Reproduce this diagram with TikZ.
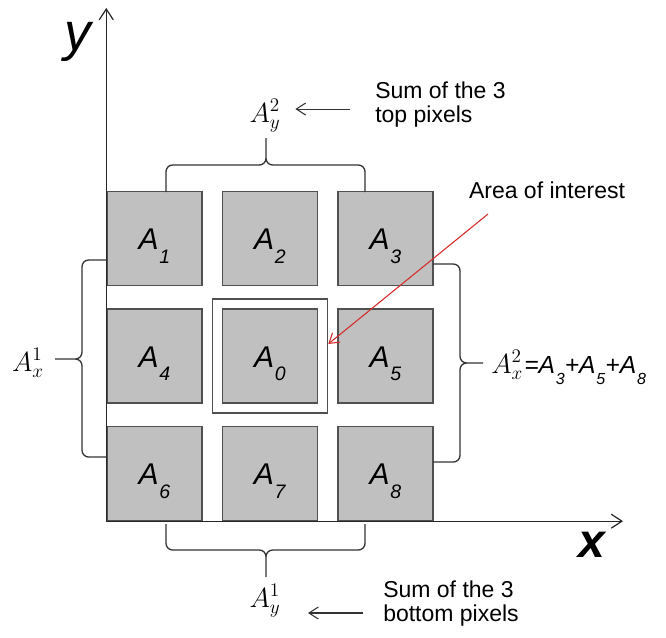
\documentclass[tikz,border=0pt]{standalone}
\usepackage{fontspec}
\setmainfont{Liberation Sans}
\usepackage{graphicx}
\usetikzlibrary{positioning,arrows.meta,fit,calc}
\definecolor{pixgray}{HTML}{C0C0C0}
\definecolor{edgegray}{HTML}{505050}
\definecolor{roired}{HTML}{D42A2A}
\newcommand{\Apix}[1]{\textit{A}\kern0.6pt\raisebox{-0.45em}{\scalebox{0.65}{\textit{#1}}}}

\begin{document}
\begin{tikzpicture}[x=0.75pt, y=-0.75pt,
    node distance=16.5pt and 14.25pt,
    pix/.style={rectangle, draw=edgegray, fill=pixgray, line width=1.1pt, minimum width=71.25pt, minimum height=70.5pt, inner sep=0pt, text height=26pt, text depth=9pt, font=\fontsize{22.5}{27}\selectfont},
    roi/.style={rectangle, draw=edgegray, line width=1.1pt, inner sep=7pt},
    note/.style={align=left, inner sep=0pt, font=\fontsize{17.25}{18}\selectfont},
    sumlbl/.style={inner sep=0pt, font=\fontsize{20.74}{25}\selectfont},
    brace/.style={draw=black!80, line width=1pt, rounded corners=5pt},
    axis/.style={draw=black!85, line width=0.9pt, {Straight Barb[length=8pt,width=10.5pt]}-{Straight Barb[length=8pt,width=10.5pt]}},
    arrow/.style={draw=black!80, line width=0.8pt, -{Straight Barb[length=7pt,width=9pt]}},
    pointer/.style={draw=roired, line width=0.8pt, -{Straight Barb[length=7pt,width=9pt]}}
]
\useasboundingbox (0,0) rectangle (666,637);
% the 3x3 pixels
\node[pix] (a1) at (154.5,238.5) {\Apix{1}};
\node[pix, right=of a1] (a2) {\Apix{2}};
\node[pix, right=of a2] (a3) {\Apix{3}};
\node[pix, below=of a1] (a4) {\Apix{4}};
\node[pix, right=of a4] (a0) {\Apix{0}};
\node[pix, right=of a0] (a5) {\Apix{5}};
\node[pix, below=of a4] (a6) {\Apix{6}};
\node[pix, right=of a6] (a7) {\Apix{7}};
\node[pix, right=of a7] (a8) {\Apix{8}};
\node[roi, fit=(a0)] (roi) {};
% axes
\draw[axis] (a6.south west |- 0,8) -- (a6.south west) -- (a6.south west -| 623,0);
\node[font=\fontsize{40}{48}\selectfont\itshape, inner sep=0pt] (ylab) at (78,42) {y};
\node[font=\fontsize{36}{44}\selectfont\bfseries\itshape, inner sep=0pt] (xlab) at (592,545) {x};
% braces
\draw[brace] (166,192) |- (266,165) -- (266,138) (365,192) |- (266,165) -- (266,138);
\draw[brace] (107,260) -| (82,359) -- (55,359) (107,457) -| (82,359) -- (55,359);
\draw[brace] (433,264) -| (460,363) -- (483,363) (433,462) -| (460,363) -- (483,363);
\draw[brace] (166,524) |- (266,550) -- (266,577) (365,524) |- (266,550) -- (266,577);
% sums
\node[sumlbl, anchor=base] (ay2) at (265,122) {$A_y^2$};
\node[sumlbl, anchor=base] (ay1) at (265,607) {$A_y^1$};
\node[sumlbl, anchor=base] (ax1) at (28,371) {$A_x^1$};
\node[sumlbl, anchor=base west] (ax2) at (491,373) {$A_x^2$\kern1pt\fontsize{18.5}{22}\selectfont\textit{=}\Apix{3}\textit{+}\Apix{5}\textit{+}\Apix{8}};
\node[note, anchor=west] (topnote) at (375,104.5) {Sum of the 3\\top pixels};
\node[note, anchor=west] (botnote) at (383,604) {Sum of the 3\\bottom pixels};
\node[note] (aoi) at (547,190) {Area of interest};
\coordinate (lead) at (488,214);
\draw[arrow, shorten <=18.75pt, shorten >=11pt] ([yshift=-3.4pt]topnote.west) -- ([yshift=-3.4pt]topnote.west -| ay2.east);
\draw[arrow, shorten <=15pt, shorten >=20.5pt] ([yshift=-6.75pt]botnote.west) -- ([yshift=-6.75pt]botnote.west -| ay1.east);
\draw[pointer] (lead) -- ([yshift=9pt]roi.east);
\end{tikzpicture}
\end{document}
